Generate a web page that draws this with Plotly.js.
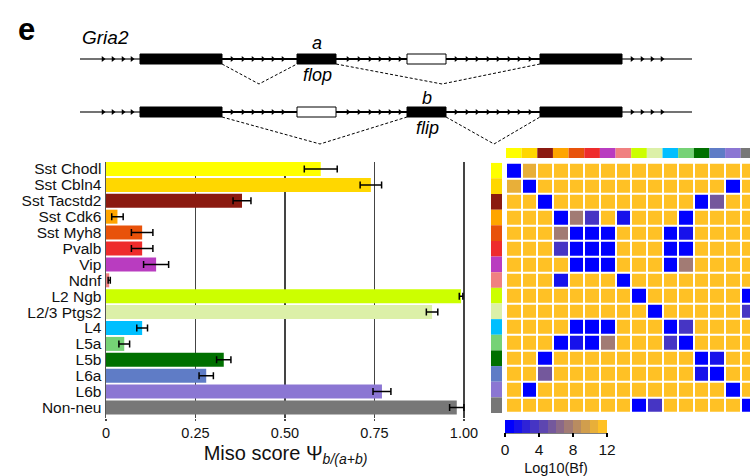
<!DOCTYPE html>
<html>
<head>
<meta charset="utf-8">
<script src="https://cdn.plot.ly/plotly-3.0.1.min.js"></script>
<style>html,body{margin:0;padding:0;background:#fff}#chart{width:750px;height:476px}</style>
</head>
<body>
<div id="chart"></div>
<script>
// ---------------- data ----------------
const cellTypes = ['Sst Chodl','Sst Cbln4','Sst Tacstd2','Sst Cdk6','Sst Myh8','Pvalb','Vip','Ndnf',
  'L2 Ngb','L2/3 Ptgs2','L4','L5a','L5b','L6a','L6b','Non-neu'];
const misoScore = [0.600,0.740,0.380,0.032,0.101,0.101,0.140,0.009,0.992,0.911,0.101,0.051,0.329,0.280,0.771,0.980];
const misoErr   = [0.046,0.030,0.025,0.016,0.030,0.030,0.035,0.003,0.005,0.016,0.015,0.015,0.020,0.020,0.025,0.020];
const typeColors = ['#ffff00','#ffd700','#8b1a10','#ffa500','#e8520a','#ee2c2c','#b93cc0','#f08080',
  '#ccff00','#dcf0a8','#00bfff','#76d276','#007000','#5f7cc6','#8b76d3','#777777'];
const xTickVals = [0,0.25,0.5,0.75,1];
const xTickText = ['0','0.25','0.50','0.75','1.00'];
const O = 12;
const bfMatrix = [
  [0.3,10.5,O,O,O,O,O,O,O,O,O,O,O,O,O,O],
  [10.5,0.3,O,O,O,O,O,O,O,O,O,O,O,O,0.3,O],
  [O,O,0.3,O,O,O,O,O,O,O,O,O,0.3,5.5,O,O],
  [O,O,O,0.3,7.5,3.5,O,1.5,O,O,O,0.3,O,O,O,O],
  [O,O,O,7.5,0.3,0.3,0.3,O,O,O,0.3,1.5,O,O,O,O],
  [O,O,O,3.5,0.3,0.3,0.3,O,O,O,0.3,0.3,O,O,O,O],
  [O,O,O,O,0.3,0.3,0.3,O,O,O,0.3,7.5,O,O,O,O],
  [O,O,O,1.5,O,O,O,0.3,O,O,O,O,O,O,O,O],
  [O,O,O,O,O,O,O,O,0.3,O,O,O,O,O,O,0.3],
  [O,O,O,O,O,O,O,O,O,0.3,O,O,O,O,O,3.5],
  [O,O,O,O,0.3,0.3,0.3,O,O,O,0.3,3.5,O,O,O,O],
  [O,O,O,0.3,1.5,0.3,7.5,O,O,O,3.5,0.3,O,O,O,O],
  [O,O,0.3,O,O,O,O,O,O,O,O,O,0.3,1.5,O,O],
  [O,O,5.5,O,O,O,O,O,O,O,O,O,1.5,0.3,O,O],
  [O,0.3,O,O,O,O,O,O,O,O,O,O,O,O,0.3,O],
  [O,O,O,O,O,O,O,O,0.3,3.5,O,O,O,O,O,0.3]
];
const cbTicks = [0,4,8,12];

// ---------------- gene diagram geometry (pixel units) ----------------
const geneY = [59, 112];
const exons = [
  [[140,222,true],[297,336,true],[407,446,false],[540,622,true]],
  [[140,222,true],[297,336,false],[407,446,true],[540,622,true]]
];
const arrowX = [103,113,123,132, 232,243,253,263,273,283, 348,359,370,380,390,400,
  456,467,477,488,498,509,519,530, 632,642,652,662];
const splices = [
  [[222,64],[259,84],[297,64]], [[336,64],[442,84],[540,64]],
  [[222,117],[320,144],[407,117]], [[446,117],[494,144],[540,117]]
];

// ---------------- colorscale (12 steps blue -> orange) ----------------
const cLo = [0,0,255], cHi = [255,193,37];
const colorscale = [];
for (let k = 0; k < 12; k++) {
  const t = k/11;
  const c = 'rgb(' + cLo.map((v,i)=>Math.round(v+(cHi[i]-v)*t)).join(',') + ')';
  colorscale.push([k/12, c]); colorscale.push([(k+1)/12, c]);
}

const FONT = 'Arial, "Liberation Sans", sans-serif';
const H = 476, W = 750;
const py = p => 1 - p/H, px = p => p/W;

const traces = [];
// bar chart
traces.push({
  type:'bar', orientation:'h', y:cellTypes, x:misoScore, xaxis:'x', yaxis:'y',
  marker:{color:typeColors, line:{width:0}},
  error_x:{type:'data', array:misoErr, visible:true, color:'#000', thickness:1.5, width:3.5},
  hoverinfo:'x+y', showlegend:false
});
// heatmap
traces.push({
  type:'heatmap', z:bfMatrix, x:cellTypes, y:cellTypes, xaxis:'x2', yaxis:'y2',
  colorscale:colorscale, zmin:0, zmax:12, xgap:2, ygap:2,
  colorbar:{orientation:'h', x:px(505), xanchor:'left', y:py(420), yanchor:'top',
    xpad:0, ypad:0, len:102, lenmode:'pixels', thickness:13, outlinewidth:0,
    tickvals:cbTicks, ticks:'outside', ticklen:4, tickcolor:'#000', tickwidth:1.2,
    tickfont:{family:FONT, size:15.5, color:'#111'},
    title:{text:'Log10(Bf)', side:'bottom', font:{family:FONT, size:14.5, color:'#111'}}}
});
// top color strip
traces.push({
  type:'bar', x:cellTypes, y:cellTypes.map(()=>1), xaxis:'x2', yaxis:'y3',
  marker:{color:typeColors, line:{width:0}}, width:1, hoverinfo:'x', showlegend:false
});
// left color strip
traces.push({
  type:'bar', orientation:'h', y:cellTypes, x:cellTypes.map(()=>1), xaxis:'x4', yaxis:'y2',
  marker:{color:typeColors, line:{width:0}}, width:1, hoverinfo:'y', showlegend:false
});
// gene diagram lines
geneY.forEach(gy => {
  traces.push({type:'scatter', mode:'lines', x:[80,692], y:[gy,gy], xaxis:'x5', yaxis:'y5',
    line:{color:'#444', width:1.5}, hoverinfo:'skip', showlegend:false});
  traces.push({type:'scatter', mode:'lines', x:[222,540], y:[gy,gy], xaxis:'x5', yaxis:'y5',
    line:{color:'#000', width:2}, hoverinfo:'skip', showlegend:false});
  traces.push({type:'scatter', mode:'markers', x:arrowX, y:arrowX.map(()=>gy), xaxis:'x5', yaxis:'y5',
    marker:{symbol:'triangle-right', size:5, color:'#000'}, hoverinfo:'skip', showlegend:false});
});
splices.forEach(s => {
  traces.push({type:'scatter', mode:'lines', x:s.map(p=>p[0]), y:s.map(p=>p[1]), xaxis:'x5', yaxis:'y5',
    line:{color:'#000', width:1, dash:'3px,2px'}, hoverinfo:'skip', showlegend:false});
});

const shapes = [];
exons.forEach((row, r) => row.forEach(e => {
  shapes.push({type:'rect', xref:'x5', yref:'y5', x0:e[0], x1:e[1], y0:geneY[r]-5, y1:geneY[r]+5,
    fillcolor: e[2] ? '#000' : '#fff', line:{color:'#000', width:1}});
}));
// colorbar bottom line
shapes.push({type:'line', xref:'paper', yref:'paper', x0:px(505), x1:px(607), y0:py(433), y1:py(433),
  line:{color:'#000', width:1.2}});

const annotations = [
  {text:'<b>e</b>', x:26, y:29, font:{size:31, family:FONT, color:'#000'}},
  {text:'<i>Gria2</i>', x:105, y:37, font:{size:19, family:FONT, color:'#000'}},
  {text:'<i>a</i>', x:317, y:43, font:{size:18, family:FONT, color:'#000'}},
  {text:'<i>flop</i>', x:317, y:75, font:{size:18, family:FONT, color:'#000'}},
  {text:'<i>b</i>', x:427, y:98, font:{size:18, family:FONT, color:'#000'}},
  {text:'<i>flip</i>', x:427, y:128, font:{size:18, family:FONT, color:'#000'}}
].map(a => Object.assign({xref:'x5', yref:'y5', showarrow:false, xanchor:'center', yanchor:'middle'}, a));

const hidden = {visible:false, fixedrange:true};
const layout = {
  width:W, height:H, margin:{l:0, r:0, t:0, b:0, autoexpand:false},
  paper_bgcolor:'#fff', plot_bgcolor:'rgba(0,0,0,0)', showlegend:false,
  font:{family:FONT, color:'#111'}, bargap:0.12,
  xaxis:{domain:[px(106), px(465)], range:[0,1.003], tickvals:xTickVals, ticktext:xTickText,
    showgrid:true, gridcolor:'#444', gridwidth:1.5, zeroline:false, showline:false,
    ticks:'outside', ticklen:2, tickcolor:'#444', tickwidth:1.5, automargin:false,
    tickfont:{size:14.5, family:FONT, color:'#111'},
    title:{text:'Miso score Ψ<sub><i>b/(a+b)</i></sub>', font:{size:20, family:FONT, color:'#111'}, standoff:5}},
  yaxis:{domain:[py(418), py(162)], range:[15.66,-0.44], type:'category',
    tickmode:'array', tickvals:cellTypes, ticktext:cellTypes, automargin:false,
    showgrid:false, zeroline:false, showline:true, linecolor:'#555', linewidth:1.5, ticks:'',
    tickfont:{size:15.5, family:FONT, color:'#111'}},
  xaxis2:Object.assign({domain:[px(506), 1], range:[-0.5, 15.09], type:'category', anchor:'y2'}, hidden),
  yaxis2:Object.assign({domain:[py(413), py(162.7)], range:[15.5,-0.5], type:'category', anchor:'x2'}, hidden),
  yaxis3:Object.assign({domain:[py(158), py(148)], range:[0,1], anchor:'x2'}, hidden),
  xaxis4:Object.assign({domain:[px(491), px(502)], range:[0,1], anchor:'y2'}, hidden),
  xaxis5:Object.assign({domain:[0,1], range:[0,W], anchor:'y5'}, hidden),
  yaxis5:Object.assign({domain:[0,1], range:[H,0], anchor:'x5'}, hidden),
  shapes:shapes, annotations:annotations
};
Plotly.newPlot('chart', traces, layout, {displayModeBar:false, staticPlot:true});
</script>
</body>
</html>
